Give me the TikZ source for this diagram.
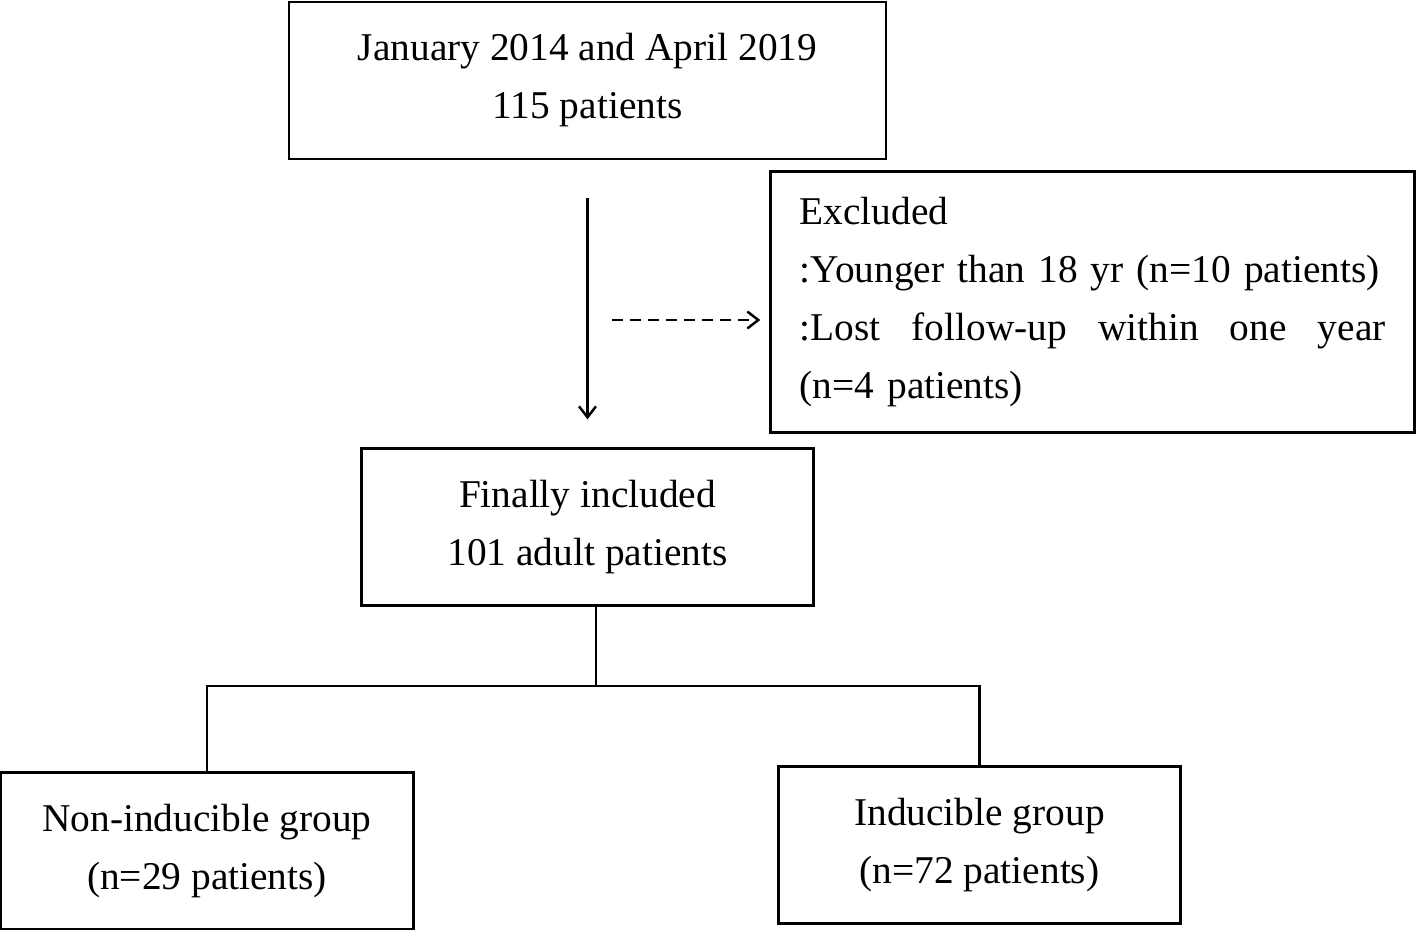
\documentclass[tikz,border=0pt]{standalone}
\usepackage{fontspec}
\setmainfont{Liberation Serif}
\usepackage{tikz}
\usetikzlibrary{arrows.meta}
\usetikzlibrary{shapes,positioning}
\tikzset{flow-line/.style={line width=1.4pt}}
\tikzset{>={Straight Barb[length=2.2mm,width=3.4mm]}}
\tikzset{flow-box/.style={draw, line width=1.5pt, inner sep=0, align=center,
    minimum height=3.14cm, font=\fontsize{22.4}{33}\selectfont}}
\tikzset{excl-box/.style={flow-box, align=left, text width=11.72cm,
    inner xsep=0.58cm, minimum height=5.22cm}}
\tikzset{dash-line/.style={flow-line, dash pattern=on 0.22cm off 0.14cm}}

\begin{document}
\begin{tikzpicture}[]
            \useasboundingbox (0,0) rectangle (28.32,-18.58);
            \node[flow-box, minimum width=11.94cm] at (11.75,-1.61) (period) {January 2014 and April 2019\\115 patients};
            \node[excl-box, below=0.2cm of period.south east, anchor=north west, xshift=-2.36cm] (excluded)
                {Excluded\\:Younger than 18 yr (n=10 patients)\\:Lost\hfill follow-up\hfill within\hfill one\hfill year\\(n=4 patients)};
            \node[flow-box, minimum width=9.04cm, below=5.74cm of period] (included) {Finally included\\101 adult patients};
            \node[flow-box, minimum width=8.26cm, below=3.28cm of included, xshift=-7.61cm] (noninducible) {Non-inducible group\\(n=29 patients)};
            \node[flow-box, minimum width=8.04cm, below=3.16cm of included, xshift=7.84cm] (inducible) {Inducible group\\(n=72 patients)};

            \coordinate (dashstart) at (12.24,-6.4);
            \coordinate (branch) at (11.92,-13.72);

            \draw[->, flow-line, shorten <=0.76cm, shorten >=0.56cm] (period.south) -- (period.south |- included.north);
            \draw[->, dash-line, shorten >=0.18cm] (dashstart) -- (excluded.west |- dashstart);

            % split into the two groups
            \draw[flow-line] (included.south -| branch) -- (branch);
            \draw[flow-line] (noninducible.north) |- (branch) -| (inducible.north);
        \end{tikzpicture}
\end{document}
